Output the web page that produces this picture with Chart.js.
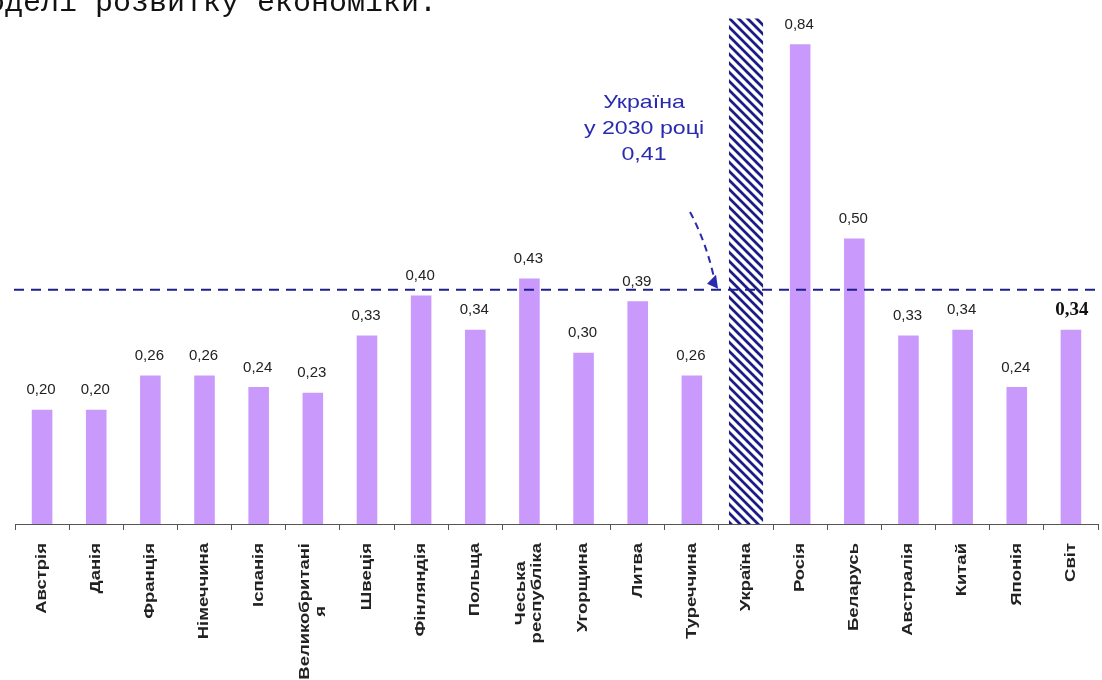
<!DOCTYPE html>
<html>
<head>
<meta charset="utf-8">
<script src="https://cdn.jsdelivr.net/npm/chart.js@4.4.1/dist/chart.umd.min.js"></script>
<style>
    html, body { margin: 0; padding: 0; background: #fff; }
    #wrap { position: relative; width: 1102px; height: 680px; }
</style>
</head>
<body>
<div id="wrap"><canvas id="barChart"></canvas></div>
<script>
// Chart data
const countries = ['Австрія', 'Данія', 'Франція', 'Німеччина', 'Іспанія', ['Великобританi', 'я'],
    'Швеція', 'Фінляндія', 'Польща', ['Чеська', 'республіка'], 'Угорщина', 'Литва', 'Туреччина',
    'Україна', 'Росія', 'Беларусь', 'Австралія', 'Китай', 'Японія', 'Світ'];
const values = [0.20, 0.20, 0.26, 0.26, 0.24, 0.23, 0.33, 0.40, 0.34, 0.43, 0.30, 0.39, 0.26,
    null, 0.84, 0.50, 0.33, 0.34, 0.24, 0.34];
// Ukraine column is a hatched placeholder running to the top of the plot
const ukraineColumn = [null, null, null, null, null, null, null, null, null, null, null, null, null,
    0.885, null, null, null, null, null, null];
const ukraine2030 = 0.41;
const ukraineNote = ['Україна', 'у 2030 році', '0,41'];
const headingText = 'моделі розвитку економіки.';

const navy = '#1f1f8c';
const noteBlue = '#2a2ab0';

function makeHatch() {
    const c = document.createElement('canvas');
    c.width = 9; c.height = 9;
    const g = c.getContext('2d');
    g.fillStyle = '#fff';
    g.fillRect(0, 0, 9, 9);
    g.strokeStyle = '#1c1c88';
    g.lineWidth = 2.8;
    g.beginPath();
    g.moveTo(-2, -2); g.lineTo(11, 11);
    g.moveTo(-2, 7); g.lineTo(2, 11);
    g.moveTo(7, -2); g.lineTo(11, 2);
    g.stroke();
    return g.createPattern(c, 'repeat');
}

function fmt(v) {
    return v.toFixed(2).replace('.', ',');
}

// Category names, rotated and stretched along the text like the original
const labelPlugin = {
    id: 'catLabels',
    afterDraw(chart) {
        const ctx = chart.ctx;
        const x = chart.scales.x;
        const top = chart.chartArea.bottom + 19;
        const lineH = 16;
        ctx.save();
        ctx.fillStyle = '#222';
        ctx.font = 'bold 14px "Liberation Sans", Arial, sans-serif';
        ctx.textBaseline = 'middle';
        countries.forEach((name, i) => {
            const lines = Array.isArray(name) ? name : [name];
            const cx = x.getPixelForValue(i);
            const widths = lines.map(l => ctx.measureText(l).width);
            const longest = Math.max(...widths);
            ctx.save();
            ctx.translate(cx, top);
            ctx.rotate(-Math.PI / 2);
            ctx.scale(1.32, 1);
            lines.forEach((l, k) => {
                const off = (k - (lines.length - 1) / 2) * lineH;
                ctx.textAlign = 'center';
                ctx.fillText(l, -longest / 2, off);
            });
            ctx.restore();
        });
        ctx.restore();
    }
};

// Draws value labels, the 2030 reference line, the note and the cut-off heading
const overlayPlugin = {
    id: 'overlay',
    afterDatasetsDraw(chart) {
        const ctx = chart.ctx;
        const x = chart.scales.x;
        const y = chart.scales.y;
        const area = chart.chartArea;
        const meta = chart.getDatasetMeta(0);

        ctx.save();
        // value labels
        ctx.textAlign = 'center';
        ctx.textBaseline = 'bottom';
        meta.data.forEach((bar, i) => {
            const v = values[i];
            if (v === null) return;
            if (i === values.length - 1) {
                ctx.font = 'bold 19px "Liberation Serif", "Times New Roman", serif';
                ctx.fillStyle = '#111';
                ctx.fillText(fmt(v), bar.x + 1, bar.y - 10);
            } else {
                ctx.font = '15px "Liberation Sans", Arial, sans-serif';
                ctx.fillStyle = '#222';
                ctx.fillText(fmt(v), bar.x - 1, bar.y - 12);
            }
        });

        // dashed line at the 2030 level
        const ly = y.getPixelForValue(ukraine2030);
        ctx.strokeStyle = navy;
        ctx.lineWidth = 2;
        ctx.setLineDash([10, 7]);
        ctx.beginPath();
        ctx.moveTo(area.left - 1, ly);
        ctx.lineTo(area.right, ly);
        ctx.stroke();

        // note text, a little wide like the original
        const uaX = x.getPixelForValue(13);
        const noteX = uaX - 102;
        ctx.setLineDash([]);
        ctx.fillStyle = noteBlue;
        ctx.font = '19px "Liberation Sans", Arial, sans-serif';
        ctx.textBaseline = 'middle';
        [103, 129, 155].forEach((ty, k) => {
            ctx.save();
            ctx.translate(noteX, ty);
            ctx.scale(1.22, 1);
            ctx.fillText(ukraineNote[k], 0, 0);
            ctx.restore();
        });

        // dashed arrow from the note down to the line
        const tipX = uaX - 28, tipY = ly - 1;
        ctx.strokeStyle = noteBlue;
        ctx.lineWidth = 2;
        ctx.setLineDash([7, 5]);
        ctx.beginPath();
        ctx.moveTo(uaX - 56, 212);
        ctx.quadraticCurveTo(uaX - 40, 242, tipX - 4, tipY - 11);
        ctx.stroke();
        ctx.setLineDash([]);
        ctx.beginPath();
        ctx.moveTo(tipX, tipY);
        ctx.lineTo(tipX - 11, tipY - 5);
        ctx.lineTo(tipX - 2, tipY - 14);
        ctx.closePath();
        ctx.fill();

        // heading line cut off at the top of the page
        ctx.fillStyle = '#111';
        ctx.font = '30px "Liberation Mono", "Courier New", monospace';
        ctx.textAlign = 'left';
        ctx.textBaseline = 'alphabetic';
        ctx.fillText(headingText, -31, 11);
        ctx.restore();
    }
};

document.addEventListener('DOMContentLoaded', function() {
    const ctx = document.getElementById('barChart').getContext('2d');
    new Chart(ctx, {
        type: 'bar',
        data: {
            labels: countries,
            datasets: [{
                data: values,
                backgroundColor: '#c999fb',
                borderWidth: 0,
                barPercentage: 0.38,
                categoryPercentage: 1
            }, {
                data: ukraineColumn,
                backgroundColor: makeHatch(),
                borderWidth: 0,
                barPercentage: 0.63,
                categoryPercentage: 1
            }]
        },
        options: {
            responsive: true,
            maintainAspectRatio: false,
            animation: false,
            layout: { padding: { top: 10, left: 15, right: 4, bottom: 0 } },
            plugins: {
                legend: { display: false },
                tooltip: { enabled: false }
            },
            datasets: { bar: { grouped: false } },
            scales: {
                x: {
                    afterFit: scale => { scale.height = 156; },
                    border: { color: '#555', width: 1 },
                    grid: {
                        offset: true,
                        drawOnChartArea: false,
                        drawTicks: true,
                        tickLength: 6,
                        color: '#555'
                    },
                    ticks: { display: false, autoSkip: false }
                },
                y: {
                    display: false,
                    min: 0,
                    max: 0.9
                }
            }
        },
        plugins: [overlayPlugin, labelPlugin]
    });
});
</script>
</body>
</html>
